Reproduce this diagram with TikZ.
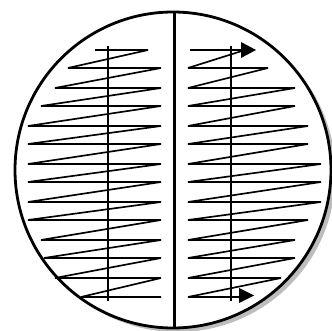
\documentclass[tikz,border=0pt]{standalone}
\usetikzlibrary{arrows.meta}
\tikzset{
  px/.style={x=0.75pt,y=-0.75pt},
  rim/.style={draw=black,line width=2.1pt,fill=white},
  rimshadow/.style={fill=black!26,draw=none},
  divider/.style={draw=black,line width=2.3pt},
  axisline/.style={draw=black,line width=1.3pt},
  zig/.style={draw=black,line width=1.25pt,line join=bevel},
  tip/.style={fill=black,draw=none}
}
\begin{document}
\begin{tikzpicture}[px]
\useasboundingbox (0,0) rectangle (332,331);
\begin{scope}
\clip (0,0) rectangle (332,331);
\fill[rimshadow] (177.5,174) circle (158);
\draw[rim] (173,170) circle (158);
\end{scope}
\coordinate (dt) at (174.3,13);
\coordinate (db) at (174.3,327);
\draw[divider] (dt) -- (db);
\coordinate (at) at (108,46);
\coordinate (ab) at (108,301);
\draw[axisline] (at) -- (ab);
\coordinate (bt) at (231,46);
\coordinate (bb) at (231,301);
\draw[axisline] (bt) -- (bb);
\draw[zig] (95,50) -- (148,50) -- (68,68) -- (161,68) -- (55,88) -- (161,88) -- (41,106) -- (161,106)
 -- (28,126) -- (161,126) -- (28,144) -- (161,144) -- (28,164) -- (161,164) -- (28,182) -- (161,182)
 -- (28,202) -- (161,202) -- (28,220) -- (161,220) -- (41,240) -- (161,240) -- (44,258) -- (161,258)
 -- (55,278) -- (161,278) -- (81,297) -- (161,297);
\draw[zig] (190,50) -- (245,50) -- (188,68) -- (268,68) -- (188,88) -- (295,88) -- (188,106) -- (295,106)
 -- (188,126) -- (308,126) -- (188,144) -- (308,144) -- (188,164) -- (321,164) -- (188,182) -- (321,182)
 -- (188,202) -- (321,202) -- (188,220) -- (308,220) -- (188,240) -- (295,240) -- (188,258) -- (295,258)
 -- (188,278) -- (281,278) -- (188,297) -- (245,297);
\fill[tip] (241,42) -- (256,50) -- (241,58) -- cycle;
\fill[tip] (239,288) -- (254,295.5) -- (239,303) -- cycle;
\end{tikzpicture}
\end{document}
